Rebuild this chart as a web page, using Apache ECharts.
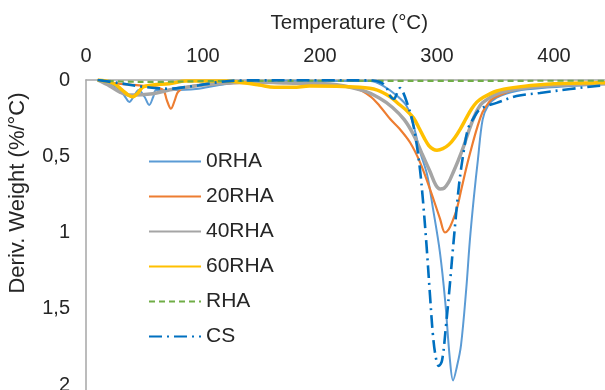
<!DOCTYPE html>
<html>
<head>
<meta charset="utf-8">
<script src="https://cdn.jsdelivr.net/npm/echarts@6/dist/echarts.min.js"></script>
<style>
  html, body { margin: 0; padding: 0; background: #fff; }
  #chart { width: 605px; height: 390px; }
</style>
</head>
<body>
<div id="chart"></div>
<script>
// DTG curves, temperature (°C) vs deriv. weight (%/°C)
const seriesNames = ["0RHA", "20RHA", "40RHA", "60RHA", "RHA", "CS"];
const xTicks = [0, 100, 200, 300, 400];
const yTicks = [0, 0.5, 1, 1.5, 2];

const t0RHA = [10, 20, 28, 33, 37, 41, 45, 50, 54, 57.5, 60, 74, 94, 114, 134, 171, 208, 243, 254, 266, 274, 280, 285.5, 291.5, 296.5, 302.5, 307, 311, 313.7, 317, 320.5, 325, 328, 331.5, 335, 339, 343.5, 351, 368, 394, 437, 450];
const d0RHA = [0, 0.02, 0.059, 0.105, 0.144, 0.105, 0.066, 0.11, 0.164, 0.11, 0.066, 0.066, 0.059, 0.033, 0.013, 0.005, 0.007, 0.007, 0.039, 0.105, 0.17, 0.3, 0.47, 0.62, 0.84, 1.13, 1.45, 1.83, 1.97, 1.88, 1.74, 1.37, 1.06, 0.77, 0.52, 0.26, 0.17, 0.116, 0.072, 0.05, 0.03, 0.028];

const t20RHA = [10, 28, 43, 57, 66, 69, 72.6, 76, 78.6, 85.5, 114, 171, 208, 231.5, 242.7, 251, 260, 268, 277, 285.5, 294, 302.6, 306.8, 310, 313, 316.8, 321, 325.4, 330, 334, 339, 344, 348, 368, 394, 437, 450];
const d20RHA = [0, 0.024, 0.033, 0.046, 0.066, 0.13, 0.188, 0.13, 0.079, 0.046, 0.024, 0.018, 0.03, 0.059, 0.105, 0.17, 0.256, 0.32, 0.41, 0.54, 0.715, 0.91, 1.0, 0.98, 0.93, 0.85, 0.71, 0.565, 0.43, 0.32, 0.21, 0.15, 0.12, 0.06, 0.04, 0.026, 0.025];

const t40RHA = [10, 20.5, 29, 37, 57, 71, 100, 143, 171, 208.5, 237, 251, 262, 272, 280, 287, 294, 299, 302.6, 306, 310, 313.7, 318, 322, 326, 330.8, 335, 339, 351, 368, 394, 437, 450];
const d40RHA = [0, 0.04, 0.079, 0.098, 0.09, 0.066, 0.033, 0.013, 0.02, 0.026, 0.07, 0.12, 0.18, 0.26, 0.36, 0.48, 0.6, 0.69, 0.715, 0.71, 0.67, 0.608, 0.53, 0.452, 0.36, 0.26, 0.19, 0.149, 0.092, 0.059, 0.039, 0.026, 0.025];

const t60RHA = [10, 23, 31, 36, 40, 44.4, 48.7, 57, 71, 85.5, 120, 136, 148, 161, 177, 191, 234, 249, 260, 266, 274, 280, 285, 289, 293, 297, 300, 305, 310, 315, 320, 325, 329.5, 334, 339, 351, 365, 394, 437, 450];
const d60RHA = [0, 0.02, 0.066, 0.098, 0.11, 0.085, 0.046, 0.033, 0.024, 0.007, 0.007, 0.02, 0.033, 0.048, 0.048, 0.04, 0.048, 0.066, 0.11, 0.149, 0.2, 0.25, 0.32, 0.38, 0.43, 0.455, 0.46, 0.45, 0.425, 0.38, 0.32, 0.25, 0.19, 0.145, 0.116, 0.072, 0.05, 0.028, 0.018, 0.017];

const tRHA = [10, 30, 60, 100, 200, 300, 400, 450];
const dRHA = [0, 0.01, 0.012, 0.008, 0.005, 0.006, 0.005, 0.005];

const tCS = [10, 28, 51, 71, 85.5, 96.6, 114, 131, 200, 245, 251, 256, 260, 263, 266, 268.5, 271, 274.4, 278.6, 282, 285.5, 288, 291, 294, 296.5, 299, 301.5, 304.3, 307.7, 311, 313.7, 318.8, 323, 326.5, 330.8, 337, 351, 368, 388, 414, 437, 450];
const dCS = [0, 0.02, 0.046, 0.057, 0.046, 0.035, 0.013, 0.003, 0.002, 0.003, 0.013, 0.04, 0.105, 0.125, 0.085, 0.052, 0.08, 0.15, 0.256, 0.39, 0.59, 0.79, 1.08, 1.41, 1.67, 1.82, 1.875, 1.84, 1.61, 1.34, 1.1, 0.69, 0.46, 0.32, 0.256, 0.19, 0.15, 0.105, 0.085, 0.059, 0.039, 0.035];

const colors = ["#5b9bd5", "#ed7d31", "#a5a5a5", "#ffc000", "#70ad47", "#0070c0"];
const widths = [2, 2.2, 3.5, 3.5, 2.2, 2.6];
const dashes = ["solid", "solid", "solid", "solid", [6, 4], [13, 5, 2, 5]];

const temps = [t0RHA, t20RHA, t40RHA, t60RHA, tRHA, tCS];
const derivs = [d0RHA, d20RHA, d40RHA, d60RHA, dRHA, dCS];

const FONT = "Liberation Sans, Arial, sans-serif";

function pairs(xs, ys) {
  return xs.map((x, i) => [x, ys[i]]);
}

const chart = echarts.init(document.getElementById("chart"), null, { renderer: "canvas" });

chart.setOption({
  animation: false,
  backgroundColor: "#fff",
  textStyle: { fontFamily: FONT },
  // the plot runs past the right and bottom edges of the picture
  grid: { left: 86, top: 80, width: 526.5, height: 381.25, outerBoundsMode: "none", containLabel: false },
  legend: {
    orient: "vertical",
    left: 148,
    top: 151,
    padding: 0,
    itemWidth: 52,
    itemHeight: 14,
    itemGap: 14,
    itemStyle: { opacity: 0 },
    data: seriesNames,
    textStyle: { fontSize: 21, color: "#262626", fontFamily: FONT }
  },
  xAxis: {
    type: "value",
    position: "top",
    min: 0,
    max: 450,
    interval: 100,
    name: "Temperature (°C)",
    nameLocation: "middle",
    nameGap: 46,
    nameTextStyle: { fontSize: 20.5, color: "#262626", fontFamily: FONT },
    axisLine: { show: true, lineStyle: { color: "#a6a6a6", width: 1.5 } },
    axisTick: { show: false },
    splitLine: { show: false },
    axisLabel: {
      fontSize: 20,
      color: "#262626",
      margin: 14,
      fontFamily: FONT,
      formatter: v => (xTicks.indexOf(v) >= 0 ? String(v) : "")
    }
  },
  yAxis: {
    type: "value",
    inverse: true,
    min: 0,
    max: 2.5,
    interval: 0.5,
    axisLine: { show: true, lineStyle: { color: "#a6a6a6", width: 1.5 } },
    axisTick: { show: false },
    splitLine: { show: false },
    axisLabel: {
      fontSize: 20,
      color: "#262626",
      margin: 16,
      fontFamily: FONT,
      formatter: v => (yTicks.indexOf(v) >= 0 ? String(v).replace(".", ",") : "")
    }
  },
  graphic: [{
    type: "text",
    x: 18,
    y: 193,
    rotation: Math.PI / 2,
    style: {
      text: "Deriv. Weight (%/°C)",
      font: "22px " + FONT,
      fill: "#262626",
      align: "center",
      verticalAlign: "middle",
      textAlign: "center",
      textVerticalAlign: "middle"
    }
  }],
  series: seriesNames.map((name, i) => ({
    name: name,
    type: "line",
    data: pairs(temps[i], derivs[i]),
    showSymbol: false,
    symbol: "none",
    smooth: 0.35,
    color: colors[i],
    lineStyle: { color: colors[i], width: widths[i], type: dashes[i] },
    z: i === 5 ? 3 : 2
  }))
});
</script>
</body>
</html>
